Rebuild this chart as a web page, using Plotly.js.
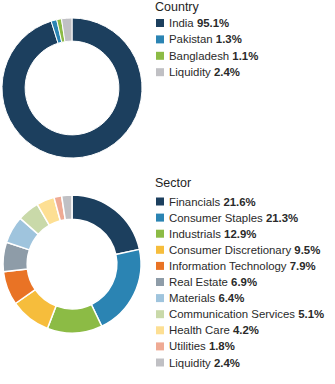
<!DOCTYPE html>
<html>
<head>
<meta charset="utf-8">
<script src="https://cdn.plot.ly/plotly-3.0.1.min.js"></script>
<style>
html,body{margin:0;padding:0;background:#fff;}
#chart{width:335px;height:384px;}
</style>
</head>
<body>
<div id="chart"></div>
<script>
// ---- Data ----
const countryLabels = ["India", "Pakistan", "Bangladesh", "Liquidity"];
const countryValues = [95.1, 1.3, 1.1, 2.4];
const countryColors = ["#1c3f5e", "#2b84b3", "#8cbb45", "#c0c0c4"];

const sectorLabels = ["Financials", "Consumer Staples", "Industrials", "Consumer Discretionary",
  "Information Technology", "Real Estate", "Materials", "Communication Services",
  "Health Care", "Utilities", "Liquidity"];
const sectorValues = [21.6, 21.3, 12.9, 9.5, 7.9, 6.9, 6.4, 5.1, 4.2, 1.8, 2.4];
const sectorColors = ["#1c3f5e", "#2b84b3", "#8cbb45", "#f6bd3c", "#e97325", "#8e9ca8",
  "#9fc4dd", "#c9d9a9", "#fddf93", "#efaa94", "#c0c0c4"];

// ---- Layout helpers (pixel -> paper) ----
const W = 335, H = 384;
const px = v => v / W;
const py = v => 1 - v / H;
const FONT = '"Liberation Sans", Arial, sans-serif';

const traces = [
  {
    type: "pie", labels: countryLabels, values: countryValues,
    marker: {colors: countryColors, line: {color: "#ffffff", width: 1}},
    hole: 0.67, sort: false, direction: "clockwise", rotation: 0,
    textinfo: "none", hoverinfo: "label+value",
    domain: {x: [px(2), px(142)], y: [py(158), py(18)]}
  },
  {
    type: "pie", labels: sectorLabels, values: sectorValues,
    marker: {colors: sectorColors, line: {color: "#ffffff", width: 1.5}},
    hole: 0.65, sort: false, direction: "clockwise", rotation: 0,
    textinfo: "none", hoverinfo: "label+value",
    domain: {x: [px(3), px(141)], y: [py(333), py(195)]}
  }
];

const annotations = [];
const shapes = [];
function addLegend(title, labels, values, colors, titleY, firstY, step) {
  annotations.push({
    xref: "paper", yref: "paper", x: px(153), y: py(titleY),
    xanchor: "left", yanchor: "middle", showarrow: false,
    text: title, font: {family: FONT, size: 12.5, color: "#1e1e1e", weight: 500}
  });
  labels.forEach((lab, i) => {
    const cy = firstY + i * step;
    shapes.push({
      type: "rect", xref: "paper", yref: "paper",
      x0: px(156), x1: px(164), y0: py(cy + 4), y1: py(cy - 4),
      fillcolor: colors[i], line: {width: 0}
    });
    annotations.push({
      xref: "paper", yref: "paper", x: px(167), y: py(cy),
      xanchor: "left", yanchor: "middle", showarrow: false,
      text: lab + " <b>" + values[i].toFixed(1) + "%</b>",
      font: {family: FONT, size: 11.4, color: "#2a2a2a"}
    });
  });
}
addLegend("Country", countryLabels, countryValues, countryColors, 7, 23, 16.4);
addLegend("Sector", sectorLabels, sectorValues, sectorColors, 183, 201.5, 16.1);

const layout = {
  width: W, height: H,
  margin: {l: 0, r: 0, t: 0, b: 0},
  paper_bgcolor: "#ffffff", plot_bgcolor: "#ffffff",
  showlegend: false,
  annotations: annotations,
  shapes: shapes
};

Plotly.newPlot("chart", traces, layout, {displayModeBar: false, staticPlot: true});
</script>
</body>
</html>
